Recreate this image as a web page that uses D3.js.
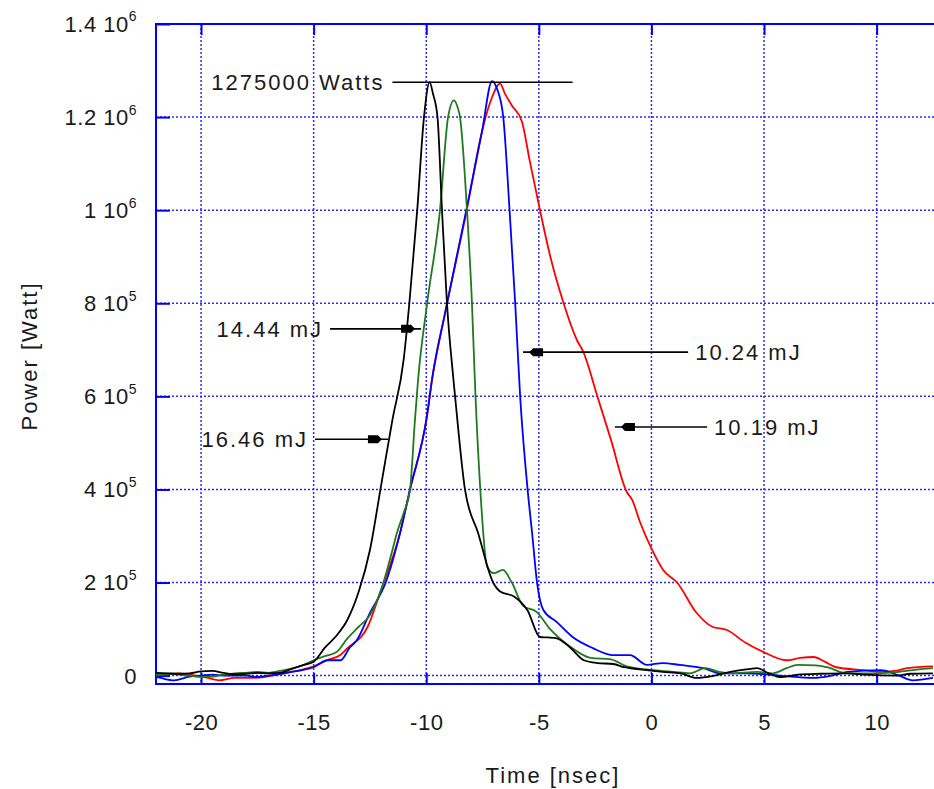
<!DOCTYPE html>
<html lang="en">

<head>
    <meta charset="UTF-8">
    <script src="https://cdn.jsdelivr.net/npm/d3@7"></script>
    <style>
        body {
            margin: 0;
            background: #fff;
        }

        text {
            font-family: "Liberation Sans", Arial, sans-serif;
            fill: #1a1a1a;
        }
    </style>
    <title>Power vs time</title>
</head>

<body>
    <svg id="svg1" width="934" height="789"></svg>
    <script>
        // power in units of 10^5 W, time in nsec
        let black = [[-22, 0.06], [-21.5, 0.05], [-21, 0.04], [-20.5, 0.05], [-20, 0.09], [-19.5, 0.1], [-19, 0.06], [-18.5, 0.03],
            [-18, 0.04], [-17.5, 0.06], [-17, 0.05], [-16.5, 0.06], [-16, 0.14], [-15.5, 0.22], [-15, 0.3], [-14.5, 0.6],
            [-14, 0.85], [-13.5, 1.2], [-13, 1.8], [-12.5, 2.7], [-12, 4.1], [-11.5, 5.5], [-11, 6.8], [-10.75, 8.0],
            [-10.4, 10.0], [-10.1, 12.0], [-9.85, 12.75], [-9.7, 12.5], [-9.5, 12.0], [-9.3, 10.0], [-9.08, 8.0], [-8.8, 6.4],
            [-8.7, 5.9], [-8.28, 4.0], [-7.7, 3.07], [-7.03, 2.0], [-6.7, 1.8], [-6.1, 1.7], [-5.5, 1.4], [-4.95, 0.83],
            [-4.6, 0.82], [-4.2, 0.8], [-3.6, 0.6], [-3.0, 0.33], [-2.4, 0.27], [-1.7, 0.25], [-1.2, 0.18], [-0.2, 0.12],
            [0.5, 0.08], [1.3, 0.05], [2.0, -0.05], [2.8, 0.0], [3.5, 0.08], [4.3, 0.14], [4.7, 0.16], [5.2, 0.05],
            [5.7, -0.03], [6.5, 0.02], [7.5, 0.04], [8.7, 0.05], [9.5, 0.02], [10.9, 0.0], [11.5, 0.04], [12.5, 0.05]];

        let green = [[-22, 0.03], [-21.5, 0.04], [-21, 0.02], [-20.5, 0.0], [-20, -0.03], [-19.5, -0.02], [-19, 0.02], [-18.5, 0.05],
            [-18, 0.06], [-17.5, 0.08], [-17, 0.06], [-16.5, 0.1], [-16, 0.15], [-15.5, 0.22], [-15, 0.33], [-14.5, 0.42],
            [-14, 0.5], [-13.5, 0.8], [-13, 1.05], [-12.5, 1.3], [-12, 1.85], [-11.5, 2.7], [-11.3, 3.07], [-11, 3.5],
            [-10.72, 4.0], [-10.5, 5.5], [-10.36, 6.37], [-9.96, 8.0], [-9.39, 10.0], [-9.03, 12.0], [-8.77, 12.36], [-8.6, 12.2],
            [-8.5, 12.0], [-8.19, 10.0], [-7.97, 8.0], [-7.83, 6.2], [-7.6, 4.0], [-7.3, 2.35], [-7.0, 2.2], [-6.6, 2.27],
            [-6.2, 2.0], [-5.7, 1.5], [-5.1, 1.37], [-4.5, 1.0], [-3.6, 0.62], [-2.7, 0.38], [-1.8, 0.35], [-1.1, 0.2],
            [0.1, 0.12], [1.0, 0.08], [1.7, 0.05], [2.4, 0.16], [3.0, 0.08], [3.5, 0.05], [4.7, 0.08], [5.4, 0.05],
            [6.0, 0.16], [6.5, 0.23], [7.3, 0.22], [7.8, 0.18], [8.7, 0.05], [10.0, 0.05], [11.0, 0.08], [11.6, 0.12], [12.5, 0.16]];

        let blue = [[-22, -0.03], [-21.8, -0.05], [-21.2, -0.1], [-20.5, -0.02], [-20, 0.0], [-19.5, 0.02], [-19, 0.0], [-18.5, 0.0],
            [-18, 0.0], [-17.5, -0.03], [-17, 0.0], [-16.5, 0.03], [-16, 0.08], [-15.5, 0.12], [-15, 0.18], [-14.4, 0.33],
            [-13.8, 0.33], [-13.4, 0.6], [-13.1, 0.75], [-12.5, 1.35], [-11.8, 2.0], [-11.16, 3.07], [-10.72, 4.0], [-9.97, 5.57],
            [-9.74, 6.37], [-9.16, 7.8], [-8.2, 10.05], [-7.52, 11.7], [-7.08, 12.77], [-6.85, 12.6], [-6.58, 12.0], [-6.3, 10.0],
            [-6.05, 8.0], [-5.83, 6.0], [-5.5, 4.0], [-5.3, 3.07], [-5.08, 2.0], [-4.8, 1.41], [-4.2, 1.15], [-3.5, 0.83],
            [-2.6, 0.59], [-1.7, 0.44], [-0.95, 0.44], [-0.2, 0.23], [0.5, 0.27], [1.27, 0.23], [2.3, 0.16], [3.05, 0.05],
            [4.2, 0.05], [5.7, 0.0], [7.2, -0.05], [8.0, 0.0], [8.7, 0.08], [10.2, 0.12], [11.0, 0.0], [11.6, -0.1], [12.5, -0.05]];

        let red = [[-22, 0.0], [-21.5, 0.03], [-21, 0.05], [-20.5, 0.02], [-20, -0.02], [-19.7, -0.05], [-19.2, -0.1], [-18.5, -0.05],
            [-18, -0.05], [-17.2, -0.03], [-16.5, 0.03], [-16, 0.08], [-15.5, 0.13], [-15, 0.2], [-14.4, 0.33], [-13.8, 0.45],
            [-13.5, 0.59], [-12.6, 1.05], [-12.05, 1.78], [-11.16, 3.07], [-10.72, 4.0], [-9.97, 5.57], [-9.74, 6.37], [-9.16, 7.8],
            [-8.2, 10.0], [-7.52, 11.7], [-7.1, 12.4], [-6.72, 12.72], [-6.5, 12.5], [-6.2, 12.25], [-5.75, 11.9], [-5.4, 11.05],
            [-4.95, 10.0], [-4.5, 9.02], [-3.9, 8.0], [-3.3, 7.2], [-3.04, 6.97], [-2.4, 6.0], [-1.8, 5.07], [-1.1, 3.95],
            [-0.86, 3.78], [-0.5, 3.29], [0.03, 2.7], [0.52, 2.27], [1.14, 2.0], [2.0, 1.35], [2.7, 1.05], [3.35, 0.98],
            [4.2, 0.7], [4.96, 0.51], [6.0, 0.33], [6.6, 0.38], [7.2, 0.4], [7.7, 0.3], [8.2, 0.18], [9.4, 0.12],
            [10.2, 0.08], [10.8, 0.1], [11.35, 0.16], [12.5, 0.2]];

        let seriesColors = ["#ff0000", "#0000ff", "#1f7a1f", "#000000"];

        let xTicks = [-20, -15, -10, -5, 0, 5, 10];
        let yTicks = [0, 2, 4, 6, 8, 10, 12, 14];
        let yTickMant = ["0", "2 10", "4 10", "6 10", "8 10", "1 10", "1.2 10", "1.4 10"];
        let yTickExp = ["", "5", "5", "5", "5", "6", "6", "6"];

        // annotations: label, arrow tip [t, P], arrow tail t
        let peakLabel = "1275000 Watts";
        let peakValue = 12.75;
        let peakLine = [-11.5, -3.5];
        let energyLabels = ["14.44 mJ", "16.46 mJ", "10.24 mJ", "10.19 mJ"];
        let energyTips = [[-10.23, 7.45], [-11.7, 5.08], [-5.7, 6.95], [-1.62, 5.34]];
        let energyTails = [-14.27, -14.94, 1.63, 2.47];

        let svgElement = d3.select("#svg1");
        let plotLeft = 156, plotTop = 24, plotBottom = 684;
        let pxPerNs = 22.52;

        let x = d3.scaleLinear().domain([-22, 13]).range([plotLeft, plotLeft + 35 * pxPerNs]);
        let y = d3.scaleLinear().domain([-0.18, 14]).range([plotBottom, plotTop]);
        let plotRight = x(13);

        // grid
        let grid = svgElement.append("g")
            .attr("stroke", "#2a2aff")
            .attr("stroke-width", 1.5)
            .attr("stroke-dasharray", "2,2");

        grid.selectAll(".vg").data(xTicks).enter().append("line")
            .attr("x1", d => x(d)).attr("x2", d => x(d))
            .attr("y1", plotTop).attr("y2", plotBottom);

        grid.selectAll(".hg").data(yTicks.slice(0, -1)).enter().append("line")
            .attr("x1", plotLeft).attr("x2", plotRight)
            .attr("y1", d => y(d)).attr("y2", d => y(d));

        // axes ticks (inward)
        let axisColor = "#0000ff";
        let bottomAxis = svgElement.append("g")
            .attr("transform", "translate(0," + plotBottom + ")")
            .call(d3.axisBottom(x).tickValues(xTicks).tickSize(-11).tickSizeOuter(0).tickPadding(30).tickFormat(d => d));
        let topAxis = svgElement.append("g")
            .attr("transform", "translate(0," + plotTop + ")")
            .call(d3.axisTop(x).tickValues(xTicks).tickSize(-11).tickSizeOuter(0).tickFormat(""));
        let leftAxis = svgElement.append("g")
            .attr("transform", "translate(" + plotLeft + ",0)")
            .call(d3.axisLeft(y).tickValues(yTicks).tickSize(-14).tickSizeOuter(0).tickFormat(""));

        [bottomAxis, topAxis, leftAxis].forEach(a => {
            a.select(".domain").remove();
            a.selectAll(".tick line").attr("stroke", axisColor).attr("stroke-width", 2);
        });

        bottomAxis.selectAll(".tick text")
            .attr("fill", "#1a1a1a")
            .attr("font-size", 22)
            .attr("letter-spacing", "0.5px")
            .attr("font-family", "Liberation Sans, Arial, sans-serif");

        // y tick labels with superscript exponent
        let yLabels = svgElement.append("g");
        yTicks.forEach((v, i) => {
            let t = yLabels.append("text")
                .attr("x", 137)
                .attr("y", y(v))
                .attr("dy", "0.36em")
                .attr("text-anchor", "end")
                .attr("font-size", 22)
                .attr("letter-spacing", "0.5px");
            t.append("tspan").text(yTickMant[i]);
            if (yTickExp[i]) {
                t.append("tspan")
                    .attr("font-size", 14)
                    .attr("dy", "-0.75em")
                    .attr("dx", "0")
                    .text(yTickExp[i]);
            }
        });

        // frame
        svgElement.append("path")
            .attr("d", "M" + plotRight + "," + plotTop + "H" + plotLeft + "V" + plotBottom + "H" + plotRight)
            .attr("fill", "none")
            .attr("stroke", axisColor)
            .attr("stroke-width", 2);

        // curves
        let line = d3.line()
            .curve(d3.curveMonotoneX)
            .x(d => x(d[0]))
            .y(d => y(d[1]));

        svgElement.append("g")
            .selectAll("path")
            .data([red, blue, green, black])
            .enter()
            .append("path")
            .attr("d", line)
            .attr("fill", "none")
            .attr("stroke", (d, i) => seriesColors[i])
            .attr("stroke-width", 1.8)
            .attr("stroke-linejoin", "round");

        // annotations
        let notes = svgElement.append("g");

        notes.append("line")
            .attr("x1", x(peakLine[0])).attr("x2", x(peakLine[1]))
            .attr("y1", y(peakValue)).attr("y2", y(peakValue))
            .attr("stroke", "#000").attr("stroke-width", 1.6);
        notes.append("text")
            .attr("x", x(peakLine[0]) - 8)
            .attr("y", y(peakValue))
            .attr("dy", "0.36em")
            .attr("text-anchor", "end")
            .attr("font-size", 22)
            .attr("letter-spacing", "2px")
            .text(peakLabel);

        energyLabels.forEach((label, i) => {
            let tipX = x(energyTips[i][0]);
            let tipY = y(energyTips[i][1]);
            let tailX = x(energyTails[i]);
            let dir = tailX < tipX ? 1 : -1; // 1: arrow points right

            notes.append("line")
                .attr("x1", tailX).attr("x2", tipX)
                .attr("y1", tipY).attr("y2", tipY)
                .attr("stroke", "#000").attr("stroke-width", 1.6);

            // small filled head, set back a little from the line end
            let hx = tipX - dir * 6;
            let pts = [[0, 0], [-4, -4], [-14, -4], [-14, 4], [-4, 4]]
                .map(p => [hx + dir * p[0], tipY + p[1]]);
            notes.append("polygon")
                .attr("points", pts.map(p => p.join(",")).join(" "))
                .attr("fill", "#000");

            notes.append("text")
                .attr("x", tailX - dir * 7)
                .attr("y", tipY)
                .attr("dy", "0.36em")
                .attr("text-anchor", dir === 1 ? "end" : "start")
                .attr("font-size", 22)
                .attr("letter-spacing", "2px")
                .text(label);
        });

        // axis titles
        svgElement.append("text")
            .attr("x", 553)
            .attr("y", 775)
            .attr("dy", "0.36em")
            .attr("text-anchor", "middle")
            .attr("font-size", 22)
            .attr("letter-spacing", "2px")
            .text("Time [nsec]");

        svgElement.append("text")
            .attr("transform", "translate(29,356) rotate(-90)")
            .attr("dy", "0.36em")
            .attr("text-anchor", "middle")
            .attr("font-size", 22)
            .attr("letter-spacing", "2px")
            .text("Power [Watt]");
    </script>
</body>

</html>
